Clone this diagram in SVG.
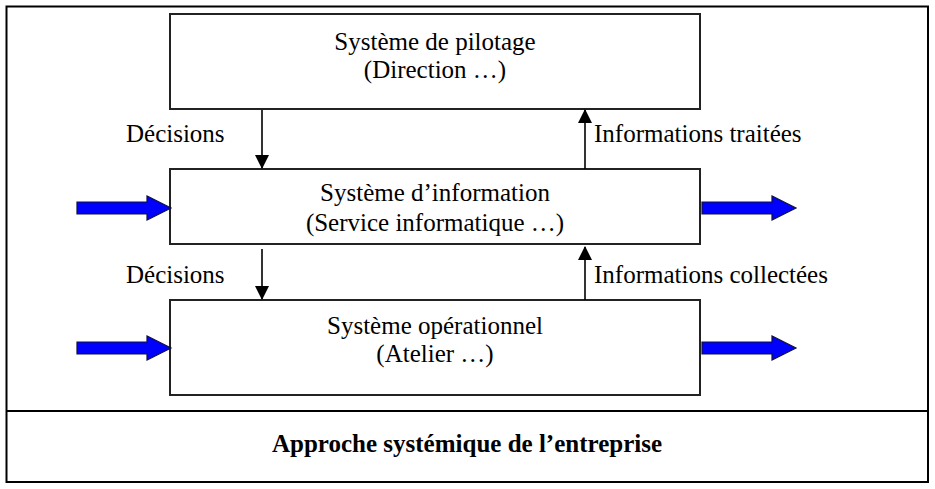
<svg xmlns="http://www.w3.org/2000/svg" width="935" height="489" viewBox="0 0 935 489">
<defs>
<style>
.t{font-family:"Liberation Serif","Times New Roman",serif;font-size:25px;fill:#000}
.c{text-anchor:middle}
.b{font-weight:bold}
.box{fill:#fff;stroke:#222;stroke-width:2}
.frame{fill:none;stroke:#000;stroke-width:2}
.ln{stroke:#000;stroke-width:1.6;fill:none}
.blue{fill:#0000ff;stroke:#101040;stroke-width:1.2}
</style>
<marker id="ah" markerWidth="14" markerHeight="16" refX="13" refY="7" orient="auto" markerUnits="userSpaceOnUse">
<path d="M0,0 L14,7 L0,14 Z" fill="#000"/>
</marker>
<path id="bigarrow" d="M0,-6 L70,-6 L70,-12 L94,0 L70,12 L70,6 L0,6 Z"/>
</defs>
<rect width="935" height="489" fill="#fff"/>
<g id="frame">
<rect class="frame" x="6.5" y="6.5" width="921.5" height="475.5"/>
<line class="frame" x1="6.5" y1="411" x2="928" y2="411"/>
</g>
<g id="node-pilotage">
<rect class="box" x="170" y="14" width="530" height="95"/>
<text class="t c" x="435" y="50">Système de pilotage</text>
<text class="t c" x="435" y="78">(Direction …)</text>
</g>
<g id="node-information">
<rect class="box" x="170" y="169" width="530" height="75"/>
<text class="t c" x="435" y="201">Système d’information</text>
<text class="t c" x="435" y="231">(Service informatique …)</text>
</g>
<g id="node-operationnel">
<rect class="box" x="170" y="300" width="530" height="95"/>
<text class="t c" x="435" y="334">Système opérationnel</text>
<text class="t c" x="435" y="362">(Atelier …)</text>
</g>
<g id="node-title">
<text class="t c b" x="467" y="452">Approche systémique de l’entreprise</text>
</g>
<g id="connectors">
<line class="ln" x1="262" y1="110" x2="262" y2="168" marker-end="url(#ah)"/>
<line class="ln" x1="585" y1="169" x2="585" y2="110" marker-end="url(#ah)"/>
<line class="ln" x1="262" y1="249" x2="262" y2="299" marker-end="url(#ah)"/>
<line class="ln" x1="585" y1="300" x2="585" y2="247" marker-end="url(#ah)"/>
<text class="t" x="126" y="142">Décisions</text>
<text class="t" x="594" y="142">Informations traitées</text>
<text class="t" x="126" y="283">Décisions</text>
<text class="t" x="594" y="283">Informations collectées</text>
<use href="#bigarrow" class="blue" transform="translate(77,208)"/>
<use href="#bigarrow" class="blue" transform="translate(702,208)"/>
<use href="#bigarrow" class="blue" transform="translate(77,348)"/>
<use href="#bigarrow" class="blue" transform="translate(702,348)"/>
</g>
</svg>
